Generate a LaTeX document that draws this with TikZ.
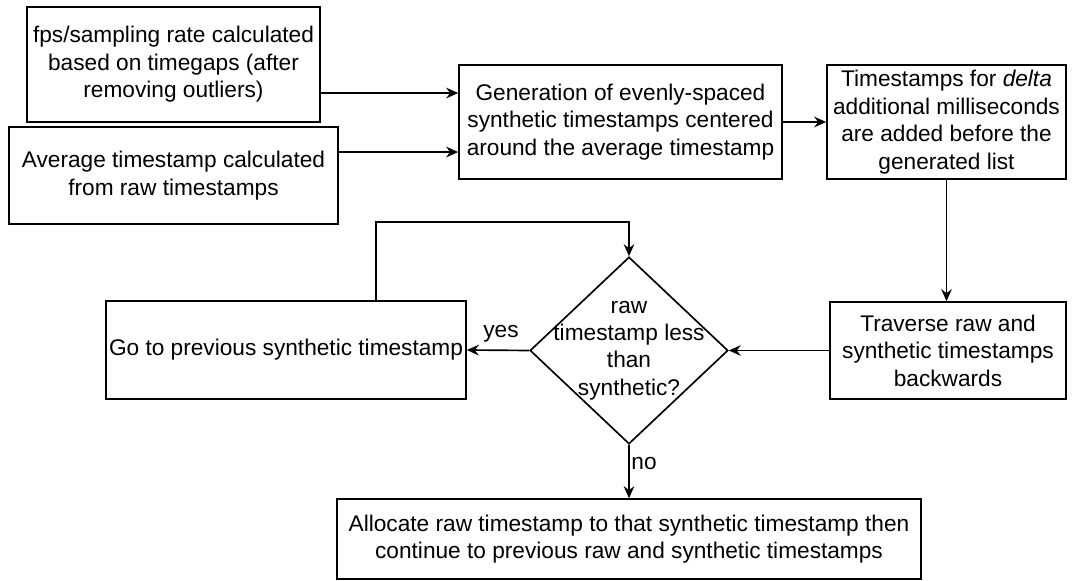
\documentclass[tikz,border=0pt]{standalone}
\usepackage{fontspec}
\setmainfont{Liberation Sans}
\usetikzlibrary{arrows.meta,shapes.geometric}
\begin{document}
\begin{tikzpicture}[x=0.75pt,y=-0.75pt,
  txt/.style={font=\fontsize{17}{20.6}\selectfont, align=center, inner sep=0pt},
  box/.style={txt, draw, line width=1.25pt},
  decbox/.style={diamond, draw, line width=1.25pt, inner sep=0pt, aspect=1},
  arr/.style={line width=1.25pt, -{Stealth[length=9pt,width=8pt,inset=3pt]}},
  lbl/.style={font=\fontsize{17}{20.6}\selectfont, inner sep=0pt}
]
\useasboundingbox (0,0) rectangle (1077,581);

\node[box, minimum width=219.75pt, minimum height=86.25pt] (b1) at (173.5,64.5)
  {fps/sampling rate calculated\\based on timegaps (after\\removing outliers)};
\node[box, minimum width=246.75pt, minimum height=72.75pt] (b2) at (173.5,175.5)
  {Average timestamp calculated\\from raw timestamps};
\node[box, minimum width=242.25pt, minimum height=85.5pt] (b3) at (620.5,122)
  {Generation of evenly-spaced\\synthetic timestamps centered\\around the average timestamp};
\node[box, minimum width=179.25pt, minimum height=85.5pt] (b4) at (946.5,122)
  {Timestamps for \textit{delta}\\additional milliseconds\\are added before the\\generated list};
\node[box, minimum width=177pt, minimum height=72.75pt] (b5) at (948,350.5)
  {Traverse raw and\\synthetic timestamps\\backwards};
\node[decbox, minimum width=148.5pt, minimum height=140.25pt] (d) at (629,350.5) {};
\node[txt] (dt) at (d.center) {raw\\timestamp less\\than\\synthetic?};
\node[box, minimum width=270pt, minimum height=73.5pt] (b6) at (286,350)
  {Go to previous synthetic timestamp};
\node[box, minimum width=438pt, minimum height=60pt] (b7) at (629,539)
  {Allocate raw timestamp to that synthetic timestamp then\\continue to previous raw and synthetic timestamps};

\draw[arr] ([yshift=-21.4pt]b1.east) -- ([yshift=-21.4pt]b1.east -| b3.west);
\draw[arr] ([yshift=17.6pt]b2.east) -- ([yshift=17.6pt]b2.east -| b3.west);
\draw[arr] (b3.east) -- (b4.west);
\draw[arr] (b4.south) -- (b4.south |- b5.north);
\draw[arr] (b5.west) -- (d.east);
\draw[arr] (d.west) -- (b6.east);
\draw[arr] (d.south) -- (b7.north);
\draw[arr] ([xshift=67.5pt]b6.north) -- ++(0,-78) -| (d.north);

\node[lbl] (yes) at (501,334) {yes};
\node[lbl] (no) at (644,464) {no};
\end{tikzpicture}
\end{document}
